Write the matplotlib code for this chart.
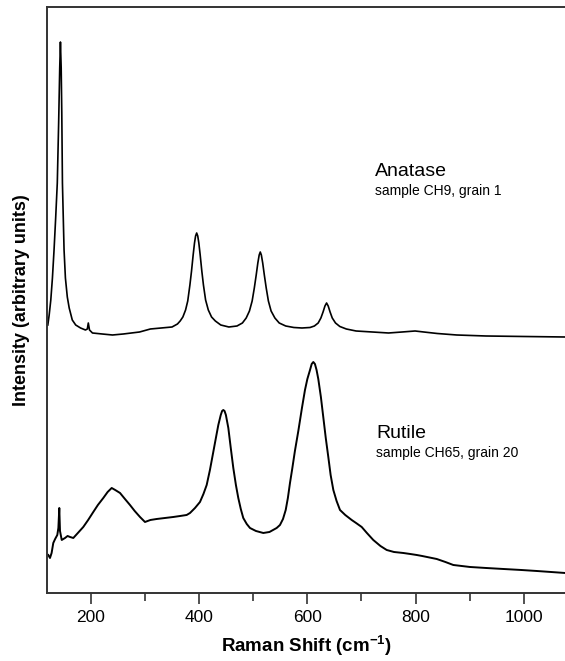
import matplotlib
matplotlib.use("Agg")
import matplotlib.pyplot as plt
from matplotlib.ticker import MultipleLocator

plt.rcParams['font.family'] = ['Liberation Sans', 'DejaVu Sans']
plt.rcParams['mathtext.fontset'] = 'custom'
plt.rcParams['mathtext.rm'] = 'Liberation Sans'
plt.rcParams['mathtext.bf'] = 'Liberation Sans:bold'

# Raman spectra (intensity in arbitrary units)
anatase_shift = [120.5, 123, 126, 129, 132, 135, 138, 140.5, 142.5, 143.8, 145.2, 146.3,
                 147.5, 150.5, 153, 156.5, 160, 165.7, 172, 181, 190, 193.5, 195.3, 197.5,
                 203, 221, 240, 260, 290, 310, 330, 350, 360, 365, 370, 375, 379, 383,
                 386, 389, 391.5, 393.5, 395.5, 397.5, 399.5, 402, 405, 408, 412, 417,
                 423, 430, 440, 455, 470, 480, 487, 493, 498, 502, 505.5, 508.5, 511,
                 513, 515, 517.5, 520.5, 524, 528, 533, 540, 548, 560, 575, 590, 605,
                 613, 620, 625, 629, 632.5, 635.5, 638.5, 642, 646, 652, 660, 672, 690,
                 720, 750, 775, 799, 815, 840, 876, 930, 1000, 1076]
anatase_int = [268, 278, 293, 315, 343, 375, 410, 470, 525, 551, 525, 480,
               410, 343, 315, 296, 285, 273, 268, 265, 263, 264, 270, 263,
               260, 259, 258, 259, 261, 264, 265, 266, 269, 272, 276, 283, 292, 308,
               322, 338, 350, 357, 360, 357, 350, 338, 322, 308, 293, 283,
               276, 272, 268, 266, 267, 270, 275, 282, 292, 305, 318, 330, 338,
               341, 338, 330, 318, 305, 292, 282, 275, 270, 267, 265.5, 265, 265.5,
               267, 270, 275, 281, 287, 290, 287, 281, 275, 270, 266.5, 264, 262,
               261, 260, 261, 262, 261, 259.5, 258, 257, 256.5, 256]

rutile_shift = [121.4, 124.5, 127.5, 130.6, 134, 138, 140, 141.7, 143, 146.2, 152.3, 157,
                161.5, 167.6, 176, 186, 195, 204.5, 213, 223, 231, 238.5, 245, 253.9,
                263, 272.3, 281, 290.8, 300, 310, 321.7, 337, 352.3, 365, 377, 383.2,
                392.4, 401.6, 408, 414, 420, 426.2, 431, 435.5, 440, 442.5, 444.7, 447,
                449.5, 454, 458.5, 463.2, 468, 472.4, 477, 481.6, 488, 494, 505, 518.6,
                530, 543.3, 549.4, 555, 560, 564, 567.9, 572, 577, 583.3, 590, 595.6,
                600, 604.9, 608, 611, 614, 617, 620.2, 625, 629.4, 634, 638.7, 643, 648,
                654, 660.3, 670, 681.9, 690, 700.4, 710, 721.8, 735, 746.6, 760, 777.2,
                790, 802, 812, 830, 839, 855, 869.6, 885, 900.4, 930, 962, 995, 1023.7,
                1050, 1076]
rutile_int = [38, 35, 40, 50, 54, 58, 65, 85, 62, 53, 55, 57,
              56, 55, 60, 66, 73, 81, 88, 95, 101, 105, 103, 100,
              94, 88, 82, 76, 71, 73, 74, 75, 76, 77, 78, 80,
              85, 91, 99, 108, 123, 141, 155, 168, 178, 182, 183, 182,
              178, 165, 145, 125, 108, 95, 84, 75, 69, 65, 62, 60,
              61, 65, 68, 74, 83, 95, 110, 124, 142, 162, 185, 203,
              214, 223, 229, 231, 229, 223, 214, 196, 176, 155, 136, 118, 103,
              92, 83, 78, 73, 70, 66, 60, 53, 47, 43, 41, 40,
              39, 38, 37, 35, 34, 31, 28, 27, 26, 25, 24, 23, 22,
              21, 20]

fig = plt.figure(figsize=(5.65, 6.61), dpi=100)
ax = fig.add_axes([0.0832, 0.1029, 0.9168, 0.8865])

ax.plot(anatase_shift, anatase_int, color='black', lw=1.2)
ax.plot(rutile_shift, rutile_int, color='black', lw=1.4)

ax.set_xlim(119, 1076)
ax.set_ylim(0, 586)

ax.text(725, 417, 'Anatase', fontsize=14, va='baseline')
ax.text(725, 398, 'sample CH9, grain 1', fontsize=10, va='baseline')
ax.text(727, 155, 'Rutile', fontsize=14, va='baseline')
ax.text(727, 136, 'sample CH65, grain 20', fontsize=10, va='baseline')

ax.xaxis.set_major_locator(MultipleLocator(200))
ax.xaxis.set_minor_locator(MultipleLocator(100))
ax.tick_params(axis='x', which='major', direction='out', length=8, width=1.2,
               labelsize=12.5, pad=4, color='#333333')
ax.tick_params(axis='x', which='minor', direction='out', length=6, width=1.2,
               color='#333333')
ax.set_yticks([])

ax.spines['right'].set_visible(False)
for s in ['left', 'top', 'bottom']:
    ax.spines[s].set_linewidth(1.4)
    ax.spines[s].set_color('#333333')

ax.set_xlabel(r'Raman Shift (cm$^{\mathbf{-1}}$)', fontsize=13.5, fontweight='bold', labelpad=6)
ax.set_ylabel('Intensity (arbitrary units)', fontsize=13, fontweight='bold', labelpad=12)

fig.savefig('out.png', dpi=100)
